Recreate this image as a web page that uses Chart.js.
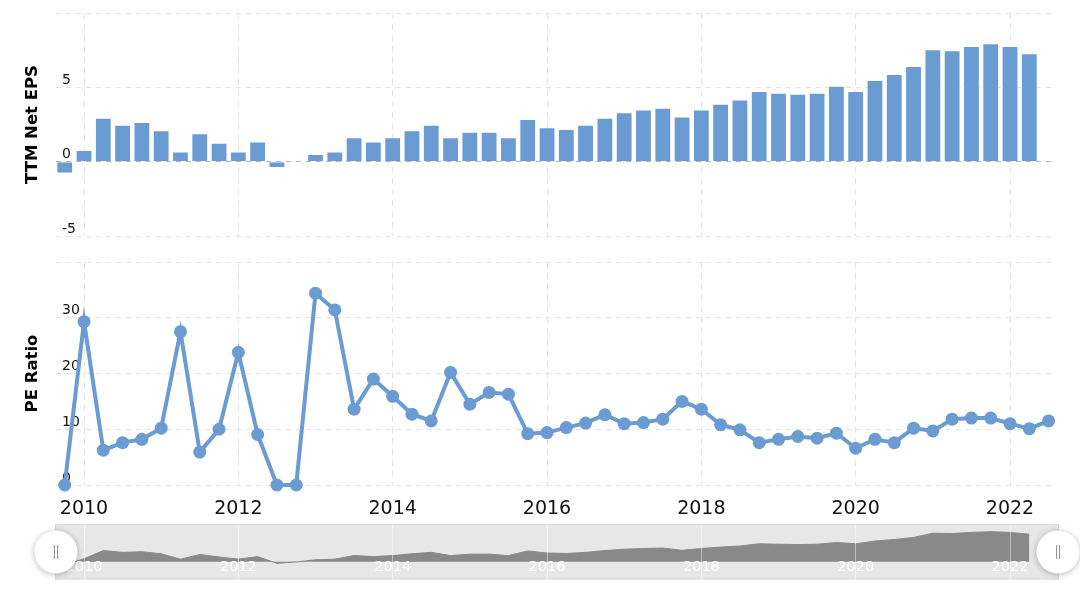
<!DOCTYPE html>
<html>
<head>
<meta charset="utf-8">
<script src="https://cdn.jsdelivr.net/npm/chart.js@4.4.1/dist/chart.umd.min.js"></script>
<style>
  body { margin: 0; background: #fff; width: 1080px; height: 597px; overflow: hidden; position: relative; }
  canvas { position: absolute; left: 0; }
</style>
</head>
<body>
<canvas id="epsChart" width="1080" height="240" style="top:0"></canvas>
<canvas id="peChart" width="1080" height="280" style="top:240px"></canvas>
<canvas id="navChart" width="1080" height="77" style="top:520px"></canvas>
<script>
// quarter end dates
var quarters = [
  '2009-09-30', '2009-12-31',
  '2010-03-31', '2010-06-30', '2010-09-30', '2010-12-31',
  '2011-03-31', '2011-06-30', '2011-09-30', '2011-12-31',
  '2012-03-31', '2012-06-30', '2012-09-30', '2012-12-31',
  '2013-03-31', '2013-06-30', '2013-09-30', '2013-12-31',
  '2014-03-31', '2014-06-30', '2014-09-30', '2014-12-31',
  '2015-03-31', '2015-06-30', '2015-09-30', '2015-12-31',
  '2016-03-31', '2016-06-30', '2016-09-30', '2016-12-31',
  '2017-03-31', '2017-06-30', '2017-09-30', '2017-12-31',
  '2018-03-31', '2018-06-30', '2018-09-30', '2018-12-31',
  '2019-03-31', '2019-06-30', '2019-09-30', '2019-12-31',
  '2020-03-31', '2020-06-30', '2020-09-30', '2020-12-31',
  '2021-03-31', '2021-06-30', '2021-09-30', '2021-12-31',
  '2022-03-31', '2022-06-30'
];
// TTM net EPS (no value yet for the last quarter)
var ttmEps = [
  -0.8, 0.78, 2.96, 2.49, 2.67, 2.11, 0.69, 1.91, 1.27, 0.69,
  1.36, -0.42, -0.05, 0.51, 0.69, 1.64, 1.36, 1.64, 2.11, 2.49,
  1.64, 2.02, 2.02, 1.64, 2.87, 2.31, 2.2, 2.49, 2.96, 3.33,
  3.51, 3.62, 3.04, 3.51, 3.89, 4.18, 4.76, 4.64, 4.56, 4.64,
  5.11, 4.76, 5.49, 5.89, 6.44, 7.56, 7.49, 7.78, 7.96, 7.78,
  7.29
];
var peRatio = [
  0, 29.3, 6.24, 7.6, 8.2, 10.2, 27.5, 5.9, 10.0, 23.8,
  9.06, 0, 0, 34.4, 31.4, 13.6, 19.0, 15.9, 12.7, 11.5,
  20.2, 14.5, 16.6, 16.3, 9.2, 9.4, 10.3, 11.1, 12.6, 11.0,
  11.2, 11.8, 15.0, 13.6, 10.8, 9.9, 7.6, 8.2, 8.7, 8.4,
  9.3, 6.6, 8.2, 7.6, 10.2, 9.7, 11.8, 12.0, 12.0, 11.0,
  10.1, 11.5
];
var yearTicks = [2010, 2012, 2014, 2016, 2018, 2020, 2022];
var epsTicks = [-5, 0, 5, 10];
var peTicks = [0, 10, 20, 30, 40];

var blue = '#6a9bd2';
var gridColor = '#e3e3e3';
var font = 'DejaVu Sans';

// '2010-03-31' -> 2010.25
function toYear(d) {
  var p = d.split('-');
  return +p[0] + (+p[1]) / 12;
}
function points(values) {
  return values.map(function (v, i) { return { x: toYear(quarters[i]), y: v }; });
}
function setTicks(list) {
  return function (scale) { scale.ticks = list.map(function (v) { return { value: v }; }); };
}

Chart.defaults.font.family = font;
Chart.defaults.color = '#000';
Chart.defaults.animation = false;
Chart.defaults.plugins.legend.display = false;
Chart.defaults.plugins.tooltip.enabled = false;

var xMin = 2009.637, xMax = 2022.557;

function xAxis(showLabels) {
  return {
    type: 'linear', min: xMin, max: xMax, offset: false,
    afterBuildTicks: setTicks(yearTicks),
    afterFit: function (s) { s.height = showLabels ? 35 : 0; s.paddingLeft = 0; s.paddingRight = 0; },
    grid: { offset: false, color: gridColor, drawTicks: false },
    border: { display: false, dash: [6, 5] },
    ticks: {
      display: showLabels, padding: 13,
      font: { size: 19 }, color: '#111',
      callback: function (v) { return String(v); }
    }
  };
}
function yAxis(title, ticks, min, max) {
  return {
    min: min, max: max,
    afterBuildTicks: setTicks(ticks),
    afterFit: function (s) { s.width = 56; s.paddingTop = 0; s.paddingBottom = 0; },
    grid: {
      drawTicks: false,
      color: function (c) { return (c.tick && c.tick.value === 0 && min < 0) ? '#b5b5b5' : gridColor; }
    },
    border: { display: false, dash: [5, 5] },
    ticks: {
      mirror: true, padding: 6, labelOffset: -7,
      font: { size: 14 }, color: '#111',
      callback: function (v) { return v === max ? '' : String(v); }
    },
    title: {
      display: true, text: title, color: '#000',
      font: { size: 16.5, weight: 'bold' },
      padding: { top: 23, bottom: 0 }
    }
  };
}

new Chart(document.getElementById('epsChart'), {
  type: 'bar',
  data: {
    datasets: [{
      data: points(ttmEps),
      backgroundColor: blue,
      borderColor: 'rgba(255,255,255,0.55)',
      borderWidth: 1,
      barPercentage: 0.87,
      categoryPercentage: 1
    }]
  },
  options: {
    responsive: false,
    layout: { padding: { top: 13, right: 27, bottom: 4, left: 0 } },
    scales: { x: xAxis(false), y: yAxis('TTM Net EPS', epsTicks, -5, 10) }
  }
});

new Chart(document.getElementById('peChart'), {
  type: 'line',
  data: {
    datasets: [{
      data: points(peRatio),
      borderColor: blue,
      backgroundColor: blue,
      borderWidth: 4,
      pointRadius: 6.5,
      pointBorderWidth: 0,
      pointBackgroundColor: blue,
      tension: 0,
      clip: false
    }]
  },
  options: {
    responsive: false,
    layout: { padding: { top: 22, right: 27, bottom: 0, left: 0 } },
    scales: { x: xAxis(true), y: yAxis('PE Ratio', peTicks, 0, 40) }
  }
});

// navigator band and the two round handles
var navDecor = {
  id: 'navDecor',
  beforeDraw: function (chart) {
    var a = chart.chartArea, ctx = chart.ctx;
    ctx.save();
    ctx.fillStyle = '#e7e7e7';
    ctx.fillRect(a.left, a.top, a.right - a.left, a.bottom - a.top);
    ctx.strokeStyle = '#d9d9d9';
    ctx.lineWidth = 1;
    ctx.strokeRect(a.left + 0.5, a.top + 0.5, a.right - a.left - 1, a.bottom - a.top - 1);
    ctx.restore();
  },
  afterDraw: function (chart) {
    var a = chart.chartArea, ctx = chart.ctx;
    var cy = 32;
    [a.left + 1, a.right - 1].forEach(function (cx) {
      ctx.save();
      ctx.shadowColor = 'rgba(0,0,0,0.28)';
      ctx.shadowBlur = 6;
      ctx.shadowOffsetY = 1;
      ctx.beginPath();
      ctx.arc(cx, cy, 21.5, 0, Math.PI * 2);
      ctx.fillStyle = '#fff';
      ctx.fill();
      ctx.restore();
      ctx.save();
      ctx.strokeStyle = '#999';
      ctx.lineWidth = 1;
      ctx.beginPath();
      ctx.moveTo(cx - 1.5, cy - 7); ctx.lineTo(cx - 1.5, cy + 7);
      ctx.moveTo(cx + 1.5, cy - 7); ctx.lineTo(cx + 1.5, cy + 7);
      ctx.stroke();
      ctx.restore();
    });
  }
};

new Chart(document.getElementById('navChart'), {
  type: 'line',
  data: {
    datasets: [{
      data: points(ttmEps),
      borderColor: '#888',
      backgroundColor: '#898989',
      borderWidth: 1,
      pointRadius: 0,
      fill: 'origin',
      tension: 0
    }]
  },
  options: {
    responsive: false,
    layout: { padding: { top: 4, right: 21, bottom: 17.5, left: 55 } },
    scales: {
      x: {
        type: 'linear', min: 2009.624, max: 2022.634,
        afterBuildTicks: setTicks(yearTicks),
        afterFit: function (s) {
          s.height = 0; s.paddingLeft = 0; s.paddingRight = 0;
          // labels sit inside the band, so don't clip them to the (empty) axis box
          s._computeLabelArea = function () {};
        },
        grid: { color: 'rgba(255,255,255,0.45)', drawTicks: false, z: 1 },
        border: { display: false },
        ticks: {
          z: 1, padding: -21, color: '#fff', font: { size: 14.5 },
          callback: function (v) { return String(v); }
        }
      },
      y: { display: false, min: -4.7, max: 10 }
    }
  },
  plugins: [navDecor]
});
</script>
</body>
</html>
